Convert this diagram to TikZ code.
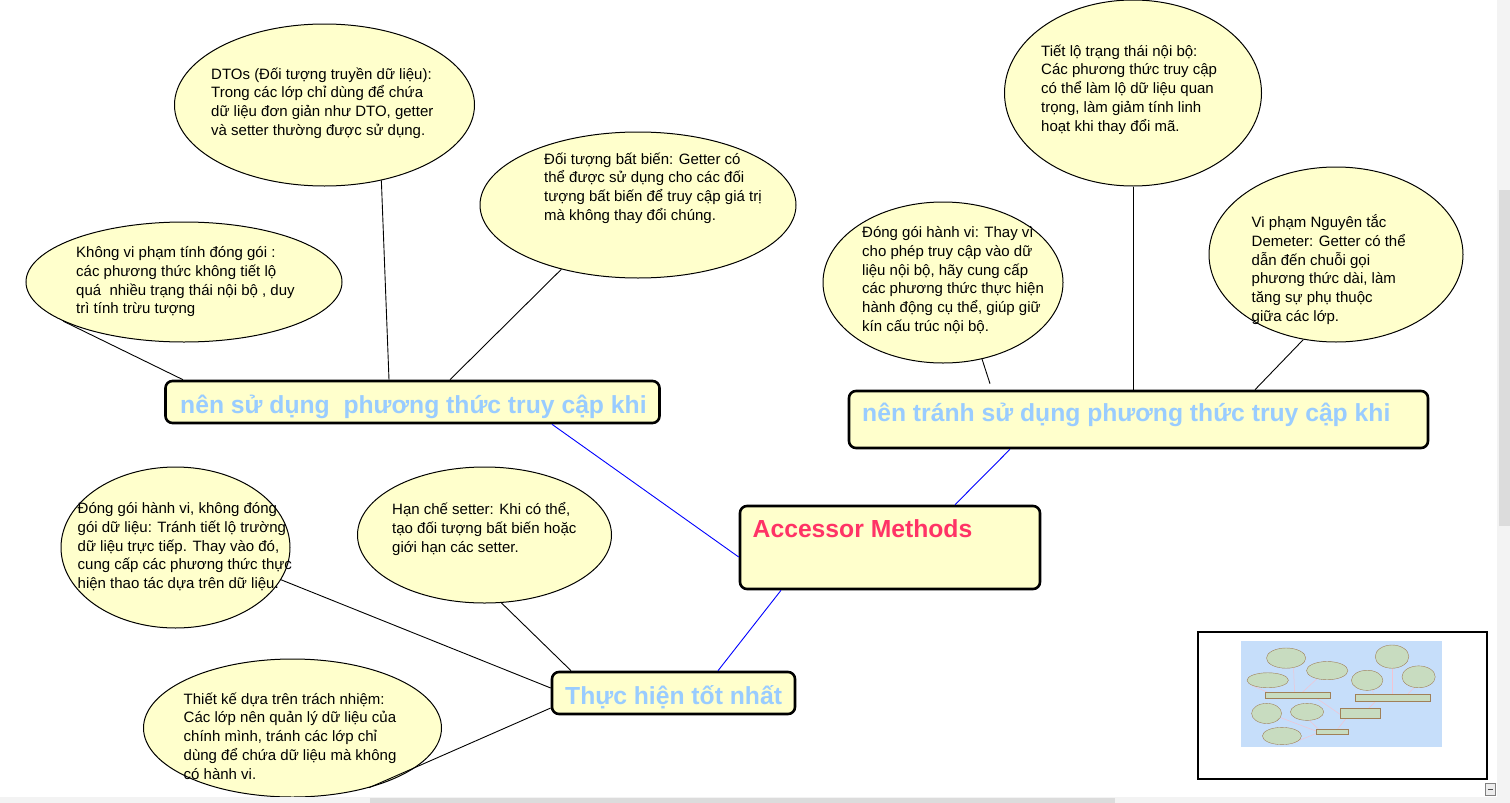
\documentclass[tikz,border=0pt]{standalone}
\usepackage{fontspec}
\setmainfont{Liberation Sans}
\usetikzlibrary{calc,shapes.geometric}
\definecolor{paper}{HTML}{FFFFCC}
\definecolor{topic}{HTML}{99CCFF}
\definecolor{root}{HTML}{FF3366}
\definecolor{track}{HTML}{F3F3F3}
\definecolor{thumb}{HTML}{DCDCDC}
\definecolor{sky}{HTML}{C6DEFA}
\definecolor{leaf}{HTML}{C8DCC0}
\definecolor{rim}{HTML}{A08058}
\definecolor{twig}{HTML}{F2C4D2}
\tikzset{
  bubble/.style={ellipse, draw=black, fill=paper, line width=1pt, inner sep=0pt},
  bubbleText/.style={anchor=north west, align=left, inner sep=0pt, yshift=-4.5pt,
    font=\fontsize{15}{18.7}\selectfont, execute at begin node={\rule{0pt}{15pt}}},
  topicBox/.style={draw=black, fill=paper, line width=2.6pt, rounded corners=7pt, inner sep=0pt},
  topicLab/.style={anchor=base west, inner sep=0pt, text=topic, font=\fontsize{24.7}{30}\selectfont\bfseries},
  rootLab/.style={topicLab, text=root},
  link/.style={draw=black, line width=0.9pt},
  rootLink/.style={draw=blue, line width=0.9pt},
  miniLeaf/.style={fill=leaf, draw=rim, line width=0.4pt},
  miniTwig/.style={draw=twig, line width=0.5pt}
}

\begin{document}
\begin{tikzpicture}[x=1pt,y=-1pt]
\useasboundingbox (0,0) rectangle (1510,803);
\fill[white] (0,0) rectangle (1510,803);

% topic boxes
\node[topicBox, minimum width=494pt, minimum height=42pt] (use) at (412.5,402) {};
\node[topicBox, minimum width=579pt, minimum height=57pt] (avoid) at (1138.5,419.5) {};
\node[topicBox, minimum width=300pt, minimum height=83pt] (root) at (890,547.5) {};
\node[topicBox, minimum width=243pt, minimum height=42pt] (best) at (673.5,693) {};
\node[topicLab] (useL) at (180,413) {nên sử dụng\ \ phương thức truy cập khi};
\node[topicLab] (avoidL) at (862,421) {nên tránh sử dụng phương thức truy cập khi};
\node[rootLab] (rootL) at (752.5,537) {Accessor Methods};
\node[topicLab] (bestL) at (565,704) {Thực hiện tốt nhất};

% bubbles
\node[bubble, minimum width=300pt, minimum height=162pt] (dto) at (324.5,105) {};
\node[bubble, minimum width=316pt, minimum height=146pt] (immut) at (638,205) {};
\node[bubble, minimum width=316pt, minimum height=120pt] (encap) at (184,282) {};
\node[bubble, minimum width=257pt, minimum height=186pt] (leak) at (1133,93) {};
\node[bubble, minimum width=240pt, minimum height=161pt] (behave) at (943,282.5) {};
\node[bubble, minimum width=254pt, minimum height=175pt] (demeter) at (1336,254.5) {};
\node[bubble, minimum width=229pt, minimum height=161pt] (pack) at (175.5,547.5) {};
\node[bubble, minimum width=254pt, minimum height=136pt] (setter) at (484.5,535) {};
\node[bubble, minimum width=298pt, minimum height=138pt] (resp) at (292.5,728) {};

\node[bubbleText] (dtoT) at (211,63) {DTOs (Đối tượng truyền dữ liệu):\\Trong các lớp chỉ dùng để chứa\\dữ liệu đơn giản như DTO, getter\\và setter thường được sử dụng.};
\node[bubbleText] (immutT) at (544,148) {Đối tượng bất biến: Getter có\\thể được sử dụng cho các đối\\tượng bất biến để truy cập giá trị\\mà không thay đổi chúng.};
\node[bubbleText] (encapT) at (76,242) {Không vi phạm tính đóng gói :\\các phương thức không tiết lộ\\quá\ \ nhiều trạng thái nội bộ , duy\\trì tính trừu tượng};
\node[bubbleText] (leakT) at (1041,40) {Tiết lộ trạng thái nội bộ:\\Các phương thức truy cập\\có thể làm lộ dữ liệu quan\\trọng, làm giảm tính linh\\hoạt khi thay đổi mã.};
\node[bubbleText] (behaveT) at (862,222) {Đóng gói hành vi: Thay vì\\cho phép truy cập vào dữ\\liệu nội bộ, hãy cung cấp\\các phương thức thực hiện\\hành động cụ thể, giúp giữ\\kín cấu trúc nội bộ.};
\node[bubbleText] (demeterT) at (1251.5,210) {Vi phạm Nguyên tắc\\Demeter: Getter có thể\\dẫn đến chuỗi gọi\\phương thức dài, làm\\tăng sự phụ thuộc\\giữa các lớp.};
\node[bubbleText] (packT) at (77.5,498) {Đóng gói hành vi, không đóng\\gói dữ liệu: Tránh tiết lộ trường\\dữ liệu trực tiếp. Thay vào đó,\\cung cấp các phương thức thực\\hiện thao tác dựa trên dữ liệu.};
\node[bubbleText] (setterT) at (392,498) {Hạn chế setter: Khi có thể,\\tạo đối tượng bất biến hoặc\\giới hạn các setter.};
\node[bubbleText] (respT) at (183.5,688) {Thiết kế dựa trên trách nhiệm:\\Các lớp nên quản lý dữ liệu của\\chính mình, tránh các lớp chỉ\\dùng để chứa dữ liệu mà không\\có hành vi.};

% connectors
\draw[link] (encap.198) -- ([xshift=-229.5pt]use.north);
\draw[link] (dto.-53) -- ([xshift=-23.5pt]use.north);
\draw[link] (immut.220) -- ([xshift=37.5pt]use.north);
\draw[link] (behave.-63) -- ([xshift=-148.5pt,yshift=6pt]avoid.north);
\draw[link] (leak.south) -- (leak.south |- avoid.north);
\draw[link] (demeter.249) -- ([xshift=116.5pt]avoid.north);
\draw[link] (pack.-17) -- ([yshift=5pt]best.west);
\draw[link] (setter.-76) -- ([xshift=-102.5pt]best.north);
\draw[link] (resp.-38) -- ([yshift=-15pt]best.west);
\draw[rootLink] ([yshift=-9.5pt]root.west) -- ([xshift=139.5pt]use.south);
\draw[rootLink] ([xshift=65pt]root.north) -- ([xshift=-128.5pt]avoid.south);
\draw[rootLink] ([xshift=-109pt]root.south) -- ([xshift=44.5pt]best.north);

% overview map
\fill[white] (1198,632) rectangle (1487,779);
\draw[line width=1.2pt] (1198,632) rectangle (1487,779);
\fill[sky] (1241,641) rectangle (1442,747);
\foreach \xa/\ya/\xb/\yb in {60/322/183/378, 381/179/389/380, 559/271/450/377, 982/358/990/385,
  1133/186/1133/391, 1303/339/1255/390, 280/580/552/688, 501/602/571/672, 368/787/554/708,
  740/557/552/423, 955/506/1010/448, 781/589/718/672}
  \draw[miniTwig] ({1243.6+0.131*\xa},{645+0.125*\ya}) -- ({1243.6+0.131*\xb},{645+0.125*\yb});
\foreach \xa/\ya/\xb/\yb in {166/381/659/423, 849/391/1428/448, 740/506/1040/589, 552/672/795/714}
  \draw[miniLeaf] ({1243.6+0.131*\xa},{645+0.125*\ya}) rectangle ({1243.6+0.131*\xb},{645+0.125*\yb});
\foreach \cx/\cy/\rx/\ry in {324.5/105/150/81, 638/205/158/73, 184/282/158/60, 1133/93/128.5/93,
  943/282.5/120/80.5, 1336/254.5/127/87.5, 175.5/547.5/114.5/80.5, 484.5/535/127/68, 292.5/728/149/69}
  \draw[miniLeaf] ({1243.6+0.131*\cx},{645+0.125*\cy}) ellipse [x radius={0.131*\rx*1pt}, y radius={0.125*\ry*1pt}];

% scroll bars
\fill[track] (1497,0) rectangle (1510,803);
\fill[thumb] (1499,190) rectangle (1510,526);
\fill[track] (0,797) rectangle (1497,803);
\fill[thumb] (370,798) rectangle (1115,803);
\draw[gray, fill=thumb!50] (1485,783) rectangle (1495,795);
\draw[black!70, line width=1pt] (1487.5,789) -- (1492.5,789);
\end{tikzpicture}
\end{document}
